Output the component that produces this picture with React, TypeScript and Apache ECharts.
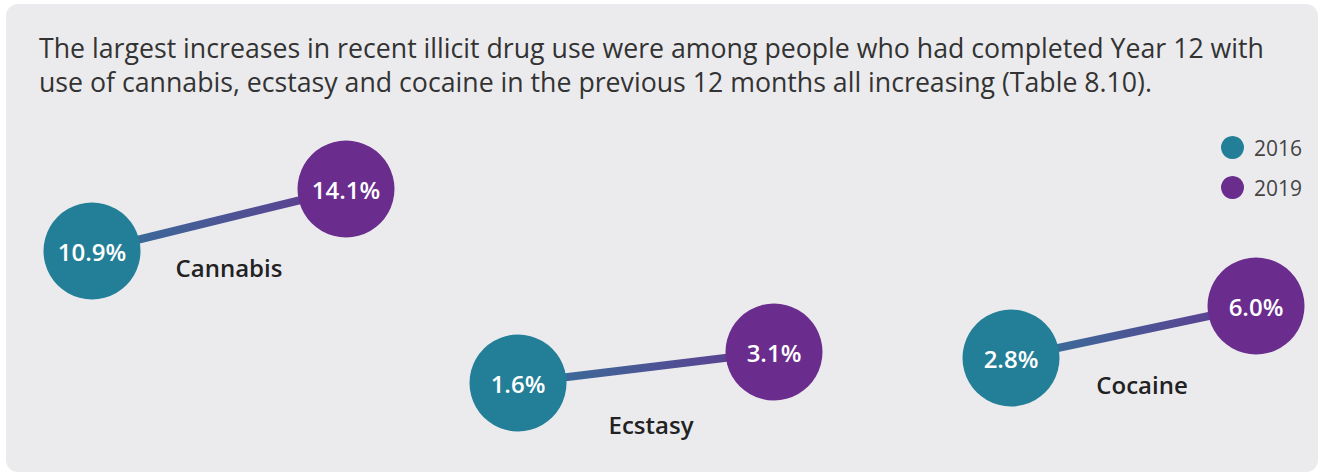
import React, { useEffect, useRef } from "react";
import * as echarts from "echarts";

const TITLE_LINES = [
  "The largest increases in recent illicit drug use were among people who had completed Year 12 with",
  "use of cannabis, ecstasy and cocaine in the previous 12 months all increasing (Table 8.10).",
];
const categories = ["Cannabis", "Ecstasy", "Cocaine"];
const years = ["2016", "2019"];
const values2016 = [10.9, 1.6, 2.8];
const values2019 = [14.1, 3.1, 6.0];

// layout only (positions of each small dumbbell panel)
const GRID_LAYOUT = [
  { left: 92, top: 189, width: 254, height: 62 },
  { left: 518, top: 352, width: 256, height: 31 },
  { left: 1011, top: 306, width: 245, height: 52 },
];
const NAME_POS = [
  [229, 267],
  [651, 424],
  [1142, 384],
];

const TEAL = "#237f97";
const PURPLE = "#6a2d8e";
const FONT = "'Open Sans', 'Noto Sans', sans-serif";

export default function App() {
  const ref = useRef<HTMLDivElement>(null);
  useEffect(() => {
    if (!ref.current) return;
    const chart = echarts.init(ref.current, undefined, { renderer: "svg" });
    const grids: any[] = [];
    const xAxes: any[] = [];
    const yAxes: any[] = [];
    const series: any[] = [];
    categories.forEach((cat, i) => {
      const lo = Math.min(values2016[i], values2019[i]);
      const hi = Math.max(values2016[i], values2019[i]);
      grids.push({ ...GRID_LAYOUT[i], containLabel: false });
      xAxes.push({ type: "category", gridIndex: i, data: years, boundaryGap: false, show: false });
      yAxes.push({ type: "value", gridIndex: i, min: lo, max: hi, show: false });
      series.push({
        type: "line",
        name: cat,
        xAxisIndex: i,
        yAxisIndex: i,
        data: [values2016[i], values2019[i]],
        symbol: "none",
        z: 1,
        silent: true,
        lineStyle: {
          width: 8,
          color: new echarts.graphic.LinearGradient(0, 0, 1, 0, [
            { offset: 0, color: "#33749a" },
            { offset: 1, color: "#633890" },
          ]),
        },
      });
      const mk = (name: string, idx: number, v: number, color: string) => ({
        type: "scatter",
        name,
        xAxisIndex: i,
        yAxisIndex: i,
        data: [[idx, v]],
        symbolSize: 97,
        z: 3,
        itemStyle: { color, opacity: 1 },
        label: {
          show: true,
          position: "inside",
          formatter: (p: any) => p.value[1].toFixed(1) + "%",
          color: "#ffffff",
          fontSize: 24,
          fontWeight: 600,
          fontFamily: FONT,
        },
      });
      series.push(mk(years[0], 0, values2016[i], TEAL));
      series.push(mk(years[1], 1, values2019[i], PURPLE));
    });

    chart.setOption({
      animation: false,
      backgroundColor: "#ffffff",
      title: {
        text: TITLE_LINES.join("\n"),
        left: 39,
        top: 30,
        padding: 0,
        textStyle: {
          fontFamily: FONT,
          fontSize: 26.7,
          fontWeight: 400,
          lineHeight: 34,
          color: "#333333",
        },
      },
      legend: {
        data: years,
        orient: "vertical",
        left: 1221,
        top: 136,
        padding: 0,
        icon: "circle",
        itemWidth: 23,
        itemHeight: 23,
        itemGap: 17,
        textStyle: { fontFamily: FONT, fontSize: 21, color: "#444444", padding: [0, 0, 0, 5] },
        selectedMode: false,
      },
      graphic: [
        {
          type: "rect",
          z: -10,
          silent: true,
          shape: { x: 6, y: 4, width: 1312, height: 468, r: 12 },
          style: { fill: "#ebebee" },
        },
        ...categories.map((c, i) => ({
          type: "text",
          x: NAME_POS[i][0],
          y: NAME_POS[i][1],
          silent: true,
          style: {
            text: c,
            fill: "#222222",
            font: `600 24px ${FONT}`,
            textAlign: "center",
            textVerticalAlign: "middle",
          },
        })),
      ],
      grid: grids,
      xAxis: xAxes,
      yAxis: yAxes,
      series,
    });
    return () => chart.dispose();
  }, []);
  return (
    <div
      ref={ref}
      style={{ position: "absolute", left: 0, top: 0, width: 1321, height: 475 }}
    />
  );
}
